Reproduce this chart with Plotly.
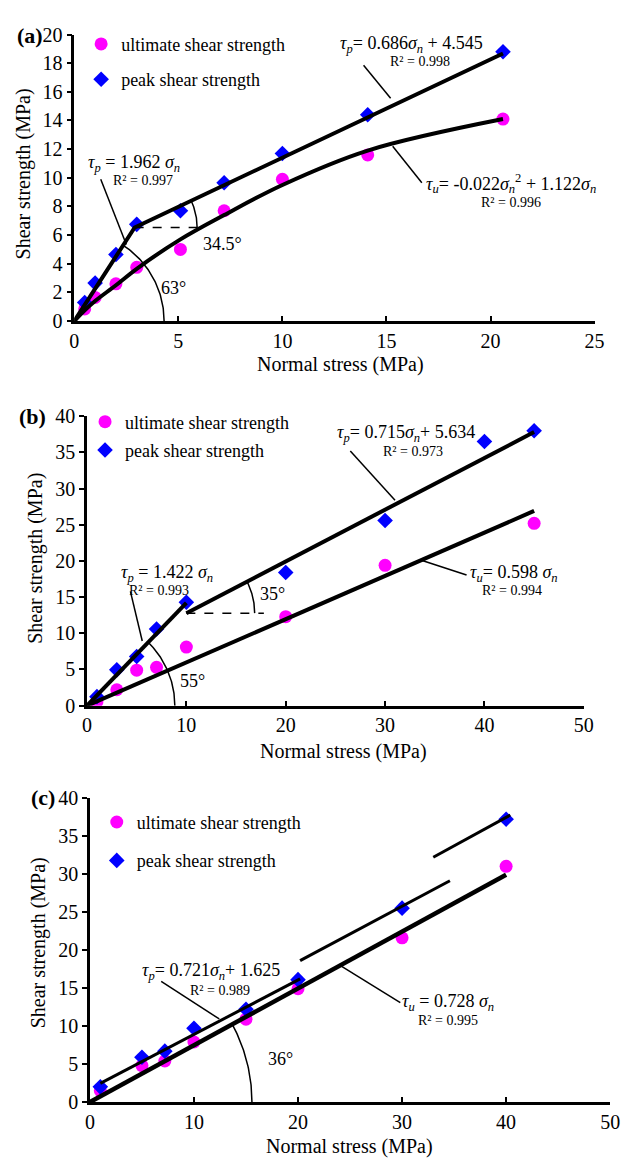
import numpy as np
import plotly.graph_objects as go

W, H = 627, 1169
FONT = "Liberation Serif"
MAG = "#FF00FF"
BLUE = "#0000FF"

# ---------------- data: panel (a) ----------------
a_sigma = [0.5, 1.0, 2.0, 3.0, 5.1, 7.2, 10.0, 14.1, 20.6]
a_peak = [1.3, 2.65, 4.65, 6.75, 7.7, 9.65, 11.7, 14.4, 18.8]
a_ult = [0.85, 1.65, 2.6, 3.75, 5.0, 7.7, 9.9, 11.6, 14.1]
a_peak_kink_x = 2.9          # end of the steep branch
a_peak_slope, a_peak_int = 0.686, 4.545
a_ult_fit_x = [0, 0.5, 1, 2, 3, 5.1, 7.2, 10, 14.1, 20.6]
a_ult_fit_y = [0, 0.75, 1.4, 2.5, 3.65, 5.7, 7.4, 9.5, 11.9, 14.1]
a_dash_end_x = 6.0

# ---------------- data: panel (b) ----------------
b_sigma_peak = [1, 3, 5, 7, 10, 20, 30, 40, 45]
b_peak = [1.25, 4.95, 6.8, 10.6, 14.3, 18.4, 25.6, 36.5, 38.0]
b_sigma_ult = [1, 3, 5, 7, 10, 20, 30, 45]
b_ult = [0.55, 2.2, 4.9, 5.3, 8.1, 12.3, 19.4, 25.2]
b_steep_slope = 1.422
b_peak_slope, b_peak_int = 0.715, 5.634
b_ult_slope = 0.598
b_break_x = 10
b_end_x = 45
b_dash_end_x = 17.8

# ---------------- data: panel (c) ----------------
c_sigma = [1, 5, 7.2, 10, 15, 20, 30, 40]
c_peak = [2.0, 5.9, 6.7, 9.7, 12.2, 16.1, 25.5, 37.2]
c_ult = [1.5, 4.8, 5.4, 7.9, 10.9, 14.9, 21.6, 31.0]
c_peak_seg_x = [[1.0, 20.2], [20.2, 34.6], [33.0, 40.4]]
c_peak_seg_y = [[2.45, 16.2], [18.6, 29.1], [32.2, 37.75]]
c_ult_fit_x = [0, 40]
c_ult_fit_y = [0, 29.9]

# ---------------- layout boxes (pixels) ----------------
boxes = {
    "a": dict(x0=71, x1=604, y0=24, y1=316, xr=[0, 25], yr=[0, 20], dx=5, dy=2),
    "b": dict(x0=84, x1=593, y0=413, y1=708, xr=[0, 50], yr=[0, 40], dx=10, dy=5),
    "c": dict(x0=87, x1=620, y0=802, y1=1112, xr=[0, 50], yr=[0, 40], dx=10, dy=5),
}


def scales(k):
    b = boxes[k]
    sx = (b["x1"] - b["x0"]) / (b["xr"][1] - b["xr"][0])
    sy = (b["y1"] - b["y0"]) / (b["yr"][1] - b["yr"][0])
    return sx, sy


def arc(k, cx, cy, r_px, a0, a1):
    sx, sy = scales(k)
    t = np.linspace(a0, a1, 60)
    return cx + r_px * np.cos(t) / sx, cy + r_px * np.sin(t) / sy


def px_angle(k, slope):
    sx, sy = scales(k)
    return np.arctan(slope * sy / sx)


fig = go.Figure()
refs = {"a": ("x", "y"), "b": ("x2", "y2"), "c": ("x3", "y3")}
legs = {"a": "legend", "b": "legend2", "c": "legend3"}


def add_points(k, xu, yu, xp, yp):
    xa, ya = refs[k]
    fig.add_trace(go.Scatter(x=xu, y=yu, mode="markers", xaxis=xa, yaxis=ya,
                             marker=dict(symbol="circle", color=MAG, size=13),
                             name="ultimate shear strength", legend=legs[k],
                             legendgroup=k + "u"))
    fig.add_trace(go.Scatter(x=xp, y=yp, mode="markers", xaxis=xa, yaxis=ya,
                             marker=dict(symbol="diamond", color=BLUE, size=12),
                             name="peak shear strength", legend=legs[k],
                             legendgroup=k + "p"))


def add_line(k, x, y, width=4, dash="solid", shape="linear"):
    xa, ya = refs[k]
    fig.add_trace(go.Scatter(x=list(x), y=list(y), mode="lines", xaxis=xa, yaxis=ya,
                             line=dict(color="black", width=width, dash=dash, shape=shape),
                             showlegend=False, hoverinfo="skip"))


# ---- panel (a) ----
add_points("a", a_sigma, a_ult, a_sigma, a_peak)
ky = a_peak_slope * a_peak_kink_x + a_peak_int
add_line("a", [0, a_peak_kink_x, a_sigma[-1]],
         [0, ky, a_peak_slope * a_sigma[-1] + a_peak_int])
add_line("a", a_ult_fit_x, a_ult_fit_y, width=4, shape="spline")
add_line("a", [a_peak_kink_x, a_dash_end_x], [ky, ky], width=1.5, dash="dash")
ax, ay = arc("a", 0, 0, 92, 0, px_angle("a", ky / a_peak_kink_x))
add_line("a", ax, ay, width=1.5)
ax, ay = arc("a", a_peak_kink_x, ky, 64, 0, px_angle("a", a_peak_slope))
add_line("a", ax, ay, width=1.5)
add_line("a", [1.27, 2.5], [9.9, 5.34], width=1.5)
add_line("a", [13.9, 15.2], [17.85, 15.55], width=1.5)
add_line("a", [15.3, 16.7], [12.2, 9.65], width=1.5)

# ---- panel (b) ----
add_points("b", b_sigma_ult, b_ult, b_sigma_peak, b_peak)
add_line("b", [0, b_break_x], [0, b_steep_slope * b_break_x])
yb = b_peak_slope * b_break_x + b_peak_int
add_line("b", [b_break_x, b_end_x], [yb, b_peak_slope * b_end_x + b_peak_int])
add_line("b", [0, b_end_x], [0, b_ult_slope * b_end_x])
add_line("b", [b_break_x, b_dash_end_x], [yb, yb], width=1.5, dash="dash")
bx, by = arc("b", 0, 0, 90, 0, px_angle("b", b_steep_slope))
add_line("b", bx, by, width=1.5)
bx, by = arc("b", b_break_x, yb, 70, 0, px_angle("b", b_peak_slope))
add_line("b", bx, by, width=1.5)
add_line("b", [4.37, 5.56], [15.8, 8.94], width=1.5)
add_line("b", [26.5, 31.0], [35.2, 28.4], width=1.5)
add_line("b", [33.65, 38.2], [20.1, 18.06], width=1.5)

# ---- panel (c) ----
add_points("c", c_sigma, c_ult, c_sigma, c_peak)
add_line("c", c_ult_fit_x, c_ult_fit_y, width=4.5)
for sxs, sys_ in zip(c_peak_seg_x, c_peak_seg_y):
    add_line("c", sxs, sys_, width=3)
cx_, cy_ = arc("c", 0, 0, 166, 0, px_angle("c", c_ult_fit_y[1] / c_ult_fit_x[1]))
add_line("c", cx_, cy_, width=1.5)
add_line("c", [6.85, 12.43], [15.86, 10.93], width=1.5)
add_line("c", [24.0, 29.83], [18.0, 13.07], width=1.5)

# ---------------- axes ----------------
layout = {}
for i, k in enumerate(["a", "b", "c"]):
    b = boxes[k]
    sfx = "" if i == 0 else str(i + 1)
    common = dict(showline=True, linecolor="black", linewidth=2.5, showgrid=False,
                  zeroline=False, tickcolor="black", tickwidth=2, ticklen=5,
                  tickfont=dict(family=FONT, size=20, color="black"), fixedrange=True)
    layout["xaxis" + sfx] = dict(common, domain=[b["x0"] / W, b["x1"] / W],
                                 range=b["xr"], dtick=b["dx"], ticks="inside",
                                 anchor="y" + sfx)
    layout["yaxis" + sfx] = dict(common, domain=[1 - b["y1"] / H, 1 - b["y0"] / H],
                                 range=b["yr"], dtick=b["dy"], ticks="outside",
                                 anchor="x" + sfx)

# legends
leg_common = dict(xanchor="left", yanchor="top", bgcolor="rgba(0,0,0,0)",
                  font=dict(family=FONT, size=18, color="black"), itemwidth=30,
                  traceorder="grouped")
layout["legend"] = dict(leg_common, x=78 / W, y=1 - 15 / H, tracegroupgap=9)
layout["legend2"] = dict(leg_common, x=82 / W, y=1 - 400 / H, tracegroupgap=2)
layout["legend3"] = dict(leg_common, x=94 / W, y=1 - 808 / H, tracegroupgap=12)

ann = []


def txt(k, x, y, text, size=18):
    xa, ya = refs[k]
    ann.append(dict(x=x, y=y, xref=xa, yref=ya, text=text, showarrow=False,
                    xanchor="center", yanchor="middle",
                    font=dict(family=FONT, size=size, color="black")))


def ptxt(px, py, text, size=20, angle=0):
    ann.append(dict(x=px / W, y=1 - py / H, xref="paper", yref="paper", text=text,
                    showarrow=False, xanchor="center", yanchor="middle", textangle=angle,
                    font=dict(family=FONT, size=size, color="black")))


TP = "<i>τ</i><sub><i>p</i></sub>"
TU = "<i>τ</i><sub><i>u</i></sub>"
SN = "<i>σ</i><sub><i>n</i></sub>"

# panel (a) texts
txt("a", 2.85, 11.0, TP + " = 1.962 " + SN)
txt("a", 3.3, 9.8, "R² = 0.997", 14)
txt("a", 16.2, 19.3, TP + "= 0.686" + SN + " + 4.545")
txt("a", 16.6, 18.1, "R² = 0.998", 14)
txt("a", 21.0, 9.6, TU + "= -0.022" + SN + "<sup>2</sup> + 1.122" + SN)
txt("a", 21.0, 8.3, "R² = 0.996", 14)
txt("a", 7.1, 5.4, "34.5°")
txt("a", 4.75, 2.3, "63°")

# panel (b) texts
txt("b", 8.1, 18.2, TP + " = 1.422 " + SN)
txt("b", 7.2, 15.9, "R² = 0.993", 14)
txt("b", 32.1, 37.6, TP + "= 0.715" + SN + "+ 5.634")
txt("b", 32.8, 35.1, "R² = 0.973", 14)
txt("b", 43.0, 18.3, TU + "= 0.598 " + SN)
txt("b", 42.8, 15.9, "R² = 0.994", 14)
txt("b", 18.7, 15.4, "35°")
txt("b", 10.6, 3.4, "55°")

# panel (c) texts
txt("c", 11.6, 17.2, TP + "= 0.721" + SN + "+ 1.625")
txt("c", 12.5, 14.7, "R² = 0.989", 14)
txt("c", 34.4, 13.1, TU + " = 0.728 " + SN)
txt("c", 34.4, 10.7, "R² = 0.995", 14)
txt("c", 18.3, 5.6, "36°")

# axis titles and panel labels
ptxt(344, 360, "Normal stress (MPa)")
ptxt(347, 755, "Normal stress (MPa)")
ptxt(353, 1157, "Normal stress (MPa)")
ptxt(19, 166, "Shear strength (MPa)", angle=-90)
ptxt(31, 558, "Shear strength (MPa)", angle=-90)
ptxt(34, 950, "Shear strength (MPa)", angle=-90)
ptxt(26, 25, "<b>(a)</b>", 22)
ptxt(28, 413, "<b>(b)</b>", 22)
ptxt(39, 802, "<b>(c)</b>", 22)

fig.update_layout(**layout)
fig.update_layout(width=W, height=H, margin=dict(l=0, r=0, t=0, b=0),
                  paper_bgcolor="white", plot_bgcolor="white",
                  annotations=ann, showlegend=True,
                  font=dict(family=FONT, color="black"))

fig.write_html("out.html")
